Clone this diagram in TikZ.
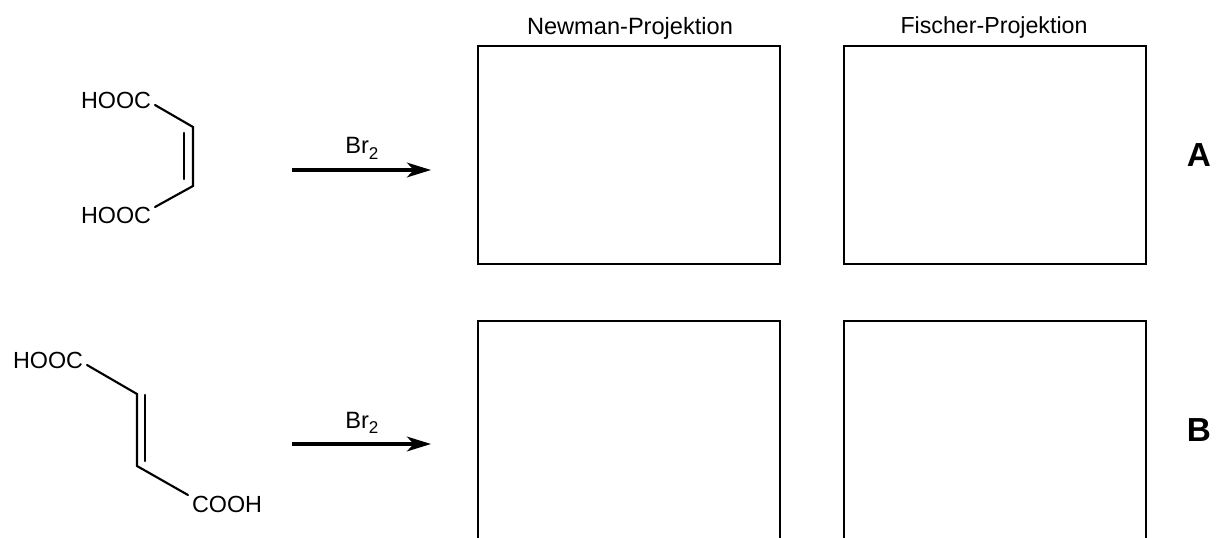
\documentclass[tikz,border=0pt]{standalone}
\usepackage{fontspec}
\setmainfont{Liberation Sans}
\usetikzlibrary{arrows.meta}
\newcommand{\brtwo}{\fontsize{17.7}{20}\selectfont Br\raisebox{-.22em}{\fontsize{12.8}{15}\selectfont 2}}
\tikzset{
  x=.75pt,y=-.75pt,
  bond/.style={line width=1.6pt,line cap=round},
  atomlbl/.style={inner sep=0pt,font=\fontsize{17.5}{20}\selectfont},
  title/.style={inner sep=0pt,font=\fontsize{17.7}{20}\selectfont},
  letter/.style={inner sep=0pt,font=\fontsize{25}{28}\selectfont\bfseries},
  answer/.style={draw,line width=1.5pt,minimum width=226.5pt,minimum height=163.5pt,inner sep=0pt,anchor=north west},
  rxn/.style={line width=2.6pt,-{Stealth[length=18pt,width=11pt,inset=5pt]}}
}
\begin{document}
\begin{tikzpicture}
\useasboundingbox (0,0) rectangle (1220,538);
\node[title] (t1) at (630,28) {Newman-Projektion};
\node[title,font=\fontsize{17.4}{20}\selectfont] (t2) at (994,28) {Fischer-Projektion};
\node[answer] (a1) at (477.2,45.2) {};
\node[answer] (a2) at (843.2,45.2) {};
\node[answer] (b1) at (477.2,320.2) {};
\node[answer] (b2) at (843.2,320.2) {};
\node[letter] (la) at (1199,155) {A};
\node[letter] (lb) at (1199,430) {B};
% A
\node[atomlbl] (h1) at (116,100) {HOOC};
\node[atomlbl] (h2) at (116,215) {HOOC};
\coordinate (a1s) at (155,105);
\coordinate (ac1) at (193,127);
\coordinate (ac2) at (193,186);
\coordinate (a2s) at (155,207);
\coordinate (ai1) at (184,133);
\coordinate (ai2) at (184,179);
\draw[bond,line join=miter] (a1s) -- (ac1) -- (ac2) -- (a2s);
\draw[bond] (ai1) -- (ai2);
% B
\node[atomlbl] (h3) at (48,360) {HOOC};
\node[atomlbl] (h4) at (227,504) {COOH};
\coordinate (b1s) at (87,365);
\coordinate (bc1) at (137,394);
\coordinate (bc2) at (137,466);
\coordinate (b2s) at (188,495);
\coordinate (bi1) at (145,395);
\coordinate (bi2) at (145,461);
\draw[bond,line join=miter] (b1s) -- (bc1) -- (bc2) -- (b2s);
\draw[bond] (bi1) -- (bi2);
% arrows
\coordinate (r1s) at (292,170);
\coordinate (r1e) at (431,170);
\coordinate (r2s) at (292,444);
\coordinate (r2e) at (431,444);
\draw[rxn] (r1s) -- (r1e);
\draw[rxn] (r2s) -- (r2e);
\node[title,anchor=base west] (br1) at (345,154) {\brtwo};
\node[title,anchor=base west] (br2) at (345,428) {\brtwo};
\end{tikzpicture}
\end{document}
